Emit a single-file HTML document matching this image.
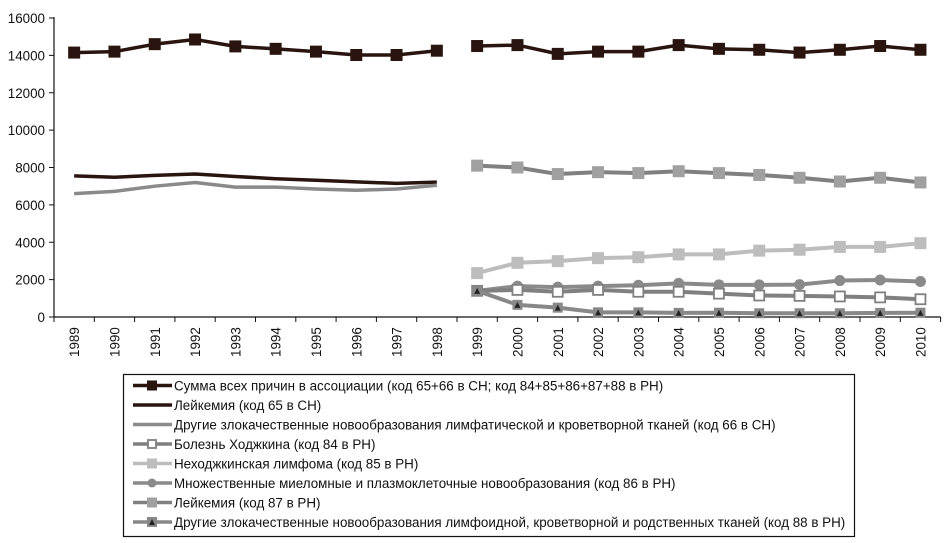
<!DOCTYPE html>
<html><head><meta charset="utf-8"><style>
body{margin:0;background:#fff;width:950px;height:543px;overflow:hidden}
svg{display:block}
text{font-family:"Liberation Sans",Arial,sans-serif;fill:#111}
</style></head><body>
<svg id="c" width="950" height="543" xmlns="http://www.w3.org/2000/svg"></svg>
<script>
const s=document.getElementById('c');let h='';
const X0=54,Y0=317,K=299/16000,W=40.3;
const x=i=>X0+W*(i+0.5), y=v=>Y0-v*K;
h+=`<line x1="${X0}" y1="17" x2="${X0}" y2="${Y0}" stroke="#111" stroke-width="1.2"/>`;
h+=`<line x1="${X0}" y1="${Y0}" x2="${X0+22*W}" y2="${Y0}" stroke="#111" stroke-width="1.2"/>`;
for(let v=0;v<=16000;v+=2000){const yy=y(v);h+=`<line x1="${X0-5}" y1="${yy}" x2="${X0}" y2="${yy}" stroke="#111"/><text x="${X0-9}" y="${yy+5}" font-size="13.4" text-anchor="end">${v}</text>`;}
for(let i=0;i<=22;i++){const xx=X0+W*i;h+=`<line x1="${xx}" y1="${Y0}" x2="${xx}" y2="${Y0+5}" stroke="#111"/>`;}
for(let i=0;i<22;i++){const xx=x(i)+5;h+=`<text transform="translate(${xx},357) rotate(-90)" font-size="13.4">${1989+i}</text>`;}
function line(off,d,col,w,mk){let p=d.map((v,i)=>`${x(off+i)},${y(v)}`).join(' ');
h+=`<polyline points="${p}" fill="none" stroke="${col}" stroke-width="${w}" stroke-linejoin="round"/>`;
d.forEach((v,i)=>h+=mk(x(off+i),y(v)));}
const sq=(c,sz,f)=>(a,b)=>`<rect x="${a-sz/2}" y="${b-sz/2}" width="${sz}" height="${sz}" fill="${f||c}" stroke="${c}" stroke-width="${f?1.8:0}"/>`;
const none=()=>'';
const circ=c=>(a,b)=>`<circle cx="${a}" cy="${b}" r="5.5" fill="${c}"/>`;
const tri=(a,b)=>`<rect x="${a-5}" y="${b-5}" width="10" height="10" fill="#888"/><path d="M${a-3},${b+3}L${a+3},${b+3}L${a},${b-3}Z" fill="#222"/>`;
line(0,[7550,7480,7580,7650,7520,7400,7320,7230,7150,7220],'#2a1410',3.5,none);
line(0,[6600,6720,7000,7200,6950,6950,6850,6780,6850,7050],'#8a8a8a',3.5,none);
line(10,[8100,8000,7650,7750,7700,7800,7700,7600,7450,7250,7450,7200],'#808080',4,sq('#a0a0a0',12));
line(10,[2350,2900,2990,3150,3200,3350,3350,3550,3600,3750,3750,3950],'#bdbdbd',4,sq('#bdbdbd',12));
line(10,[1400,1650,1600,1650,1700,1800,1720,1720,1730,1950,1980,1900],'#8a8a8a',4,circ('#8a8a8a'));
line(10,[1400,1450,1350,1450,1350,1350,1250,1150,1130,1100,1050,950],'#808080',4,sq('#808080',10,'#fff'));
line(10,[1400,650,500,250,250,220,230,200,200,200,220,230],'#888',4,tri);
line(0,[14150,14200,14600,14850,14480,14350,14200,14020,14020,14250],'#2a1410',3.5,sq('#2a1410',12));
line(10,[14500,14550,14080,14200,14200,14550,14350,14300,14150,14300,14500,14300],'#2a1410',3.5,sq('#2a1410',12));
h+=`<rect x="123.5" y="374.5" width="731" height="162" fill="none" stroke="#111" stroke-width="1.2"/>`;
const L=[['#2a1410',sq('#2a1410',10),'Сумма всех причин в ассоциации (код 65+66 в СН; код 84+85+86+87+88 в РН)'],
['#2a1410',none,'Лейкемия (код 65 в СН)'],['#8a8a8a',none,'Другие злокачественные новообразования лимфатической и кроветворной тканей (код 66 в СН)'],
['#808080',sq('#808080',8,'#fff'),'Болезнь Ходжкина (код 84 в РН)'],['#bdbdbd',sq('#bdbdbd',10),'Неходжкинская лимфома (код 85 в РН)'],
['#8a8a8a',(a,b)=>`<circle cx="${a}" cy="${b}" r="4.5" fill="#8a8a8a"/>`,'Множественные миеломные и плазмоклеточные новообразования (код 86 в РН)'],
['#808080',sq('#a0a0a0',10),'Лейкемия (код 87 в РН)'],['#888',tri,'Другие злокачественные новообразования лимфоидной, кроветворной и родственных тканей (код 88 в РН)']];
L.forEach((l,i)=>{const yy=385.5+i*19.5;h+=`<line x1="133" y1="${yy}" x2="172" y2="${yy}" stroke="${l[0]}" stroke-width="3.5"/>`+l[1](152,yy)+`<text x="174" y="${yy+4.8}" font-size="13.4">${l[2]}</text>`;});
s.innerHTML=h;
</script>
</body></html>
